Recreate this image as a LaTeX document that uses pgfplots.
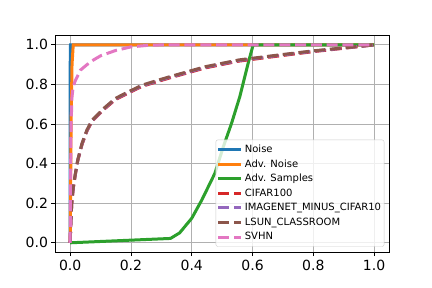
\documentclass[border=0pt]{standalone}
\usepackage{fontspec}
\setmainfont{DejaVu Sans}
\usepackage{pgfplots}
\pgfplotsset{compat=1.18}
\definecolor{c0}{HTML}{1F77B4}
\definecolor{c1}{HTML}{FF7F0E}
\definecolor{c2}{HTML}{2CA02C}
\definecolor{c3}{HTML}{D62728}
\definecolor{c4}{HTML}{9467BD}
\definecolor{c5}{HTML}{8C564B}
\definecolor{c6}{HTML}{E377C2}
\definecolor{gridc}{HTML}{B0B0B0}
\definecolor{legc}{HTML}{CCCCCC}
\begin{document}
\begin{tikzpicture}
\useasboundingbox (-55pt,-35.3pt) rectangle (377pt,252.7pt);
\begin{axis}[
  at={(0,0)}, anchor=south west, scale only axis,
  width=334.3pt, height=217.7pt,
  xmin=-0.05, xmax=1.05, ymin=-0.05, ymax=1.05,
  xtick={0,0.2,0.4,0.6,0.8,1.0},
  ytick={0,0.2,0.4,0.6,0.8,1.0},
  /pgf/number format/assume math mode=true,
  /pgf/number format/fixed, /pgf/number format/fixed zerofill, /pgf/number format/precision=1,
  ticklabel style={font=\fontsize{14}{16}\selectfont},
  grid=major, grid style={color=gridc, line width=0.8pt},
  tick align=outside, tick pos=left, major tick length=3.5pt,
  tick style={black, line width=0.8pt},
  axis line style={line width=0.8pt},
  legend cell align=left,
  legend style={at={(1,0)}, anchor=south east, xshift=-5pt, yshift=6pt,
    font=\fontsize{10}{12}\selectfont, draw=legc, rounded corners=2pt,
    fill=white, fill opacity=0.8, text opacity=1, row sep=1.6pt,
    inner xsep=1pt, inner ysep=3pt},
  legend image code/.code={\draw[#1] (0pt,0pt) -- (23pt,0pt);},
  every axis plot/.append style={line width=3pt},
]
\addplot[c0] coordinates {(0,0) (0,0.9) (0.001,1) (1,1)};
\addlegendentry{Noise}
\addplot[c1] coordinates {(0,0) (0.003,0.6) (0.006,0.9) (0.01,1) (1,1)};
\addlegendentry{Adv. Noise}
\addplot[c2] coordinates {(0,0) (0.33,0.022) (0.36,0.05) (0.40,0.124) (0.433,0.216) (0.476,0.351) (0.504,0.486) (0.531,0.604) (0.558,0.738) (0.586,0.91) (0.602,1.0) (1,1)};
\addlegendentry{Adv. Samples}
\addplot[c3, dash pattern=on 11pt off 4.8pt] coordinates {(0,0) (0.002,0.095) (0.005,0.195) (0.01,0.275) (0.017,0.345) (0.025,0.415) (0.039,0.497) (0.055,0.564) (0.072,0.614) (0.111,0.674) (0.149,0.724) (0.193,0.758) (0.237,0.791) (0.292,0.817) (0.336,0.837) (0.445,0.884) (0.555,0.918) (0.686,0.944) (0.8,0.966) (0.9,0.983) (1,1)};
\addlegendentry{CIFAR100}
\addplot[c4, dash pattern=on 11pt off 4.8pt] coordinates {(0,0) (0.002,0.098) (0.005,0.198) (0.01,0.278) (0.017,0.348) (0.025,0.418) (0.039,0.5) (0.055,0.567) (0.072,0.617) (0.111,0.677) (0.149,0.727) (0.193,0.761) (0.237,0.794) (0.292,0.82) (0.336,0.84) (0.445,0.887) (0.555,0.921) (0.686,0.947) (0.8,0.968) (0.9,0.984) (1,1)};
\addlegendentry{IMAGENET\_MINUS\_CIFAR10}
\addplot[c5, dash pattern=on 11pt off 4.8pt] coordinates {(0,0) (0.002,0.1) (0.005,0.2) (0.01,0.28) (0.017,0.35) (0.025,0.42) (0.039,0.503) (0.055,0.57) (0.072,0.62) (0.111,0.68) (0.149,0.73) (0.193,0.764) (0.237,0.797) (0.292,0.823) (0.336,0.843) (0.445,0.89) (0.555,0.924) (0.686,0.949) (0.8,0.97) (0.9,0.985) (1,1)};
\addlegendentry{LSUN\_CLASSROOM}
\addplot[c6, dash pattern=on 11pt off 4.8pt] coordinates {(0,0) (0.001,0.3) (0.003,0.6) (0.006,0.74) (0.01,0.79) (0.017,0.82) (0.034,0.873) (0.067,0.915) (0.1,0.945) (0.15,0.972) (0.2,0.99) (0.25,0.997) (0.3,1) (1,1)};
\addlegendentry{SVHN}
\end{axis}
\end{tikzpicture}
\end{document}
